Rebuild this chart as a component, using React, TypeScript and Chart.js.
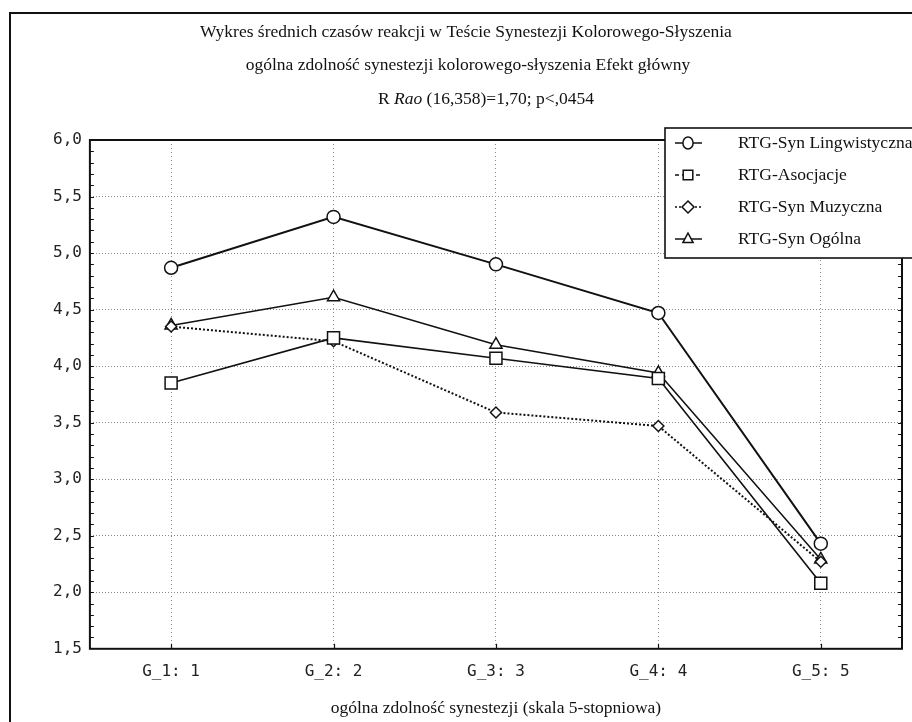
import React, { useEffect, useRef } from 'react';
import { Chart, registerables } from 'chart.js';

Chart.register(...registerables);

const categories = ['G_1: 1', 'G_2: 2', 'G_3: 3', 'G_4: 4', 'G_5: 5'];
const seriesNames = ['RTG-Syn Lingwistyczna', 'RTG-Asocjacje', 'RTG-Syn Muzyczna', 'RTG-Syn Ogólna'];
const lingwistyczna = [4.87, 5.32, 4.9, 4.47, 2.43];
const asocjacje = [3.85, 4.25, 4.07, 3.89, 2.08];
const muzyczna = [4.35, 4.22, 3.59, 3.47, 2.27];
const ogolna = [4.36, 4.61, 4.19, 3.94, 2.29];
const titleLine1 = 'Wykres średnich czasów reakcji w Teście Synestezji Kolorowego-Słyszenia';
const titleLine2 = 'ogólna zdolność synestezji kolorowego-słyszenia Efekt główny';
const titleLine3Parts = ['R ', 'Rao', ' (16,358)=1,70; p<,0454'];
const xAxisTitle = 'ogólna zdolność synestezji (skala 5-stopniowa)';
const yMin = 1.5;
const yMax = 6.0;
const yStep = 0.5;
const yMinorStep = 0.1;

const SERIF = '"Liberation Serif", "Times New Roman", serif';
const MONO = '"DejaVu Sans Mono", monospace';

const markerStyles = ['circle', 'rect', 'rectRot', 'triangle'];
const markerRadii = [6.5, 8.5, 5.5, 7];
const lineDashes: number[][] = [[], [], [2, 2], []];
const legendDashes: number[][] = [[], [4, 3], [2, 2], []];
const lineWidths = [2, 1.6, 2, 1.5];

function drawMarker(ctx: CanvasRenderingContext2D, style: string, x: number, y: number, r: number) {
  ctx.beginPath();
  if (style === 'circle') {
    ctx.ellipse(x, y, r * 0.85, r, 0, 0, Math.PI * 2);
  } else if (style === 'rect') {
    const s = r * 0.8;
    ctx.rect(x - s, y - s, 2 * s, 2 * s);
  } else if (style === 'rectRot') {
    ctx.moveTo(x, y - r);
    ctx.lineTo(x + r, y);
    ctx.lineTo(x, y + r);
    ctx.lineTo(x - r, y);
    ctx.closePath();
  } else {
    ctx.moveTo(x, y - r);
    ctx.lineTo(x + r * 0.85, y + r * 0.6);
    ctx.lineTo(x - r * 0.85, y + r * 0.6);
    ctx.closePath();
  }
  ctx.fillStyle = '#fff';
  ctx.fill();
  ctx.setLineDash([]);
  ctx.lineWidth = 1.5;
  ctx.strokeStyle = '#111';
  ctx.stroke();
}

const decorPlugin = {
  id: 'decor',
  beforeDraw(chart: any) {
    const { ctx, width, height } = chart;
    ctx.save();
    ctx.fillStyle = '#fff';
    ctx.fillRect(0, 0, width, height);
    ctx.strokeStyle = '#111';
    ctx.lineWidth = 2;
    ctx.strokeRect(10, 13, width + 20, height + 20);
    ctx.fillStyle = '#111';
    ctx.textBaseline = 'middle';
    ctx.textAlign = 'center';
    ctx.font = `17.5px ${SERIF}`;
    ctx.fillText(titleLine1, 466, 32);
    ctx.fillText(titleLine2, 468, 65);
    ctx.textAlign = 'left';
    const fonts = [`17.5px ${SERIF}`, `italic 17.5px ${SERIF}`, `17.5px ${SERIF}`];
    let total = 0;
    titleLine3Parts.forEach((p, i) => {
      ctx.font = fonts[i];
      total += ctx.measureText(p).width;
    });
    let x = 486 - total / 2;
    titleLine3Parts.forEach((p, i) => {
      ctx.font = fonts[i];
      ctx.fillText(p, x, 99);
      x += ctx.measureText(p).width;
    });
    ctx.restore();
  },
  afterDatasetsDraw(chart: any) {
    const { ctx, chartArea } = chart;
    const yScale = chart.scales.y;
    const xScale = chart.scales.x;
    ctx.save();
    ctx.strokeStyle = '#111';
    ctx.lineWidth = 1.2;
    ctx.setLineDash([]);
    const n = Math.round((yMax - yMin) / yMinorStep);
    for (let i = 1; i < n; i++) {
      const v = yMin + i * yMinorStep;
      const py = Math.round(yScale.getPixelForValue(v)) + 0.5;
      ctx.beginPath();
      ctx.moveTo(chartArea.left, py);
      ctx.lineTo(chartArea.left + 4, py);
      ctx.moveTo(chartArea.right, py);
      ctx.lineTo(chartArea.right - 4, py);
      ctx.stroke();
    }
    categories.forEach((_, i) => {
      const px = Math.round(xScale.getPixelForValue(i)) + 0.5;
      ctx.beginPath();
      ctx.moveTo(px, chartArea.bottom);
      ctx.lineTo(px, chartArea.bottom - 5);
      ctx.stroke();
    });
    ctx.lineWidth = 2;
    ctx.strokeRect(chartArea.left, chartArea.top, chartArea.right - chartArea.left, chartArea.bottom - chartArea.top);

    const lx = 665;
    const ly = 128;
    const lw = 260;
    const lh = 130;
    ctx.fillStyle = '#fff';
    ctx.fillRect(lx, ly, lw, lh);
    ctx.lineWidth = 1.6;
    ctx.strokeRect(lx, ly, lw, lh);
    const rowY = [143, 175, 207, 239];
    chart.data.datasets.forEach((ds: any, i: number) => {
      const y = rowY[i];
      ctx.setLineDash(legendDashes[i]);
      ctx.lineWidth = 1.5;
      ctx.strokeStyle = '#111';
      ctx.beginPath();
      ctx.moveTo(675, y);
      ctx.lineTo(702, y);
      ctx.stroke();
      drawMarker(ctx, markerStyles[i], 688, y, 6);
      ctx.fillStyle = '#111';
      ctx.font = `17.5px ${SERIF}`;
      ctx.textAlign = 'left';
      ctx.textBaseline = 'middle';
      ctx.fillText(ds.label, 738, y);
    });
    ctx.restore();
  },
};

export default function App() {
  const ref = useRef<HTMLCanvasElement | null>(null);
  useEffect(() => {
    if (!ref.current) return;
    const series = [lingwistyczna, asocjacje, muzyczna, ogolna];
    const chart = new Chart(ref.current, {
      type: 'line',
      data: {
        labels: categories,
        datasets: series.map((d, i) => ({
          label: seriesNames[i],
          data: d,
          borderColor: '#111',
          borderWidth: lineWidths[i],
          borderDash: lineDashes[i],
          pointStyle: markerStyles[i] as any,
          pointRadius: markerRadii[i],
          pointBackgroundColor: '#fff',
          pointBorderColor: '#111',
          pointBorderWidth: 1.5,
          fill: false,
          tension: 0,
        })),
      },
      options: {
        responsive: false,
        animation: false,
        devicePixelRatio: 1,
        layout: { padding: { left: 45, top: 140, right: 8, bottom: 3 } },
        plugins: {
          legend: { display: false },
          title: { display: false },
          tooltip: { enabled: false },
        },
        scales: {
          x: {
            type: 'category',
            offset: true,
            grid: { color: '#8a8a8a', lineWidth: 1, drawTicks: false },
            border: { display: false, dash: [1, 3] },
            ticks: {
              font: { family: MONO, size: 16 },
              color: '#222',
              padding: 13,
              maxRotation: 0,
              autoSkip: false,
            },
            title: {
              display: true,
              text: xAxisTitle,
              font: { family: SERIF, size: 17.5 },
              color: '#111',
              padding: { top: 4, bottom: 0 },
            },
          },
          y: {
            min: yMin,
            max: yMax,
            grid: { color: '#8a8a8a', lineWidth: 1, drawTicks: false },
            border: { display: false, dash: [1, 2] },
            ticks: {
              stepSize: yStep,
              font: { family: MONO, size: 16 },
              color: '#222',
              padding: 8,
              callback: (v: any) => Number(v).toFixed(1).replace('.', ','),
            },
          },
        },
      },
      plugins: [decorPlugin],
    });
    return () => chart.destroy();
  }, []);
  return (
    <div style={{ position: 'absolute', left: 0, top: 0, width: 912, height: 722 }}>
      <canvas ref={ref} width={912} height={722} style={{ display: 'block', width: 912, height: 722 }} />
    </div>
  );
}
